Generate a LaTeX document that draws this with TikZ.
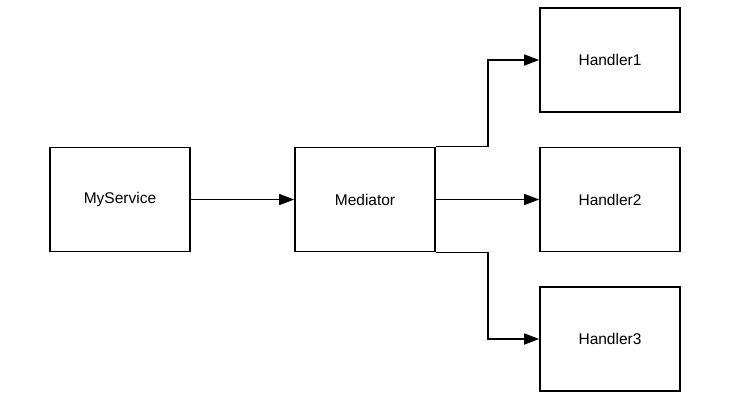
\documentclass[tikz,border=0pt]{standalone}
\usepackage{fontspec}
\setmainfont{Liberation Sans}
\usetikzlibrary{arrows.meta,calc}
\begin{document}
\begin{tikzpicture}[x=1pt,y=-1pt,
  box/.style={draw=black,line width=1.6pt,minimum width=140pt,minimum height=104pt,inner sep=0pt,font=\fontsize{15.5}{18}\selectfont},
  conn/.style={draw=black,line width=1.5pt,-{Triangle[length=15pt,width=11pt]}}]
\useasboundingbox (0,0) rectangle (730,400);
\node[box] (ms) at (120,199.5) {MyService};
\node[box] (med) at (365,199.5) {Mediator};
\node[box] (h1) at (610,60) {Handler1};
\node[box] (h2) at (610,199.5) {Handler2};
\node[box] (h3) at (610,339) {Handler3};
\draw[conn] (ms.east) -- (med.west);
\draw[conn] (med.east) -- (h2.west);
\draw[conn] (med.north east) -- ++(52,0) |- (h1.west);
\draw[conn] (med.south east) -- ++(52,0) |- (h3.west);
\end{tikzpicture}
\end{document}
